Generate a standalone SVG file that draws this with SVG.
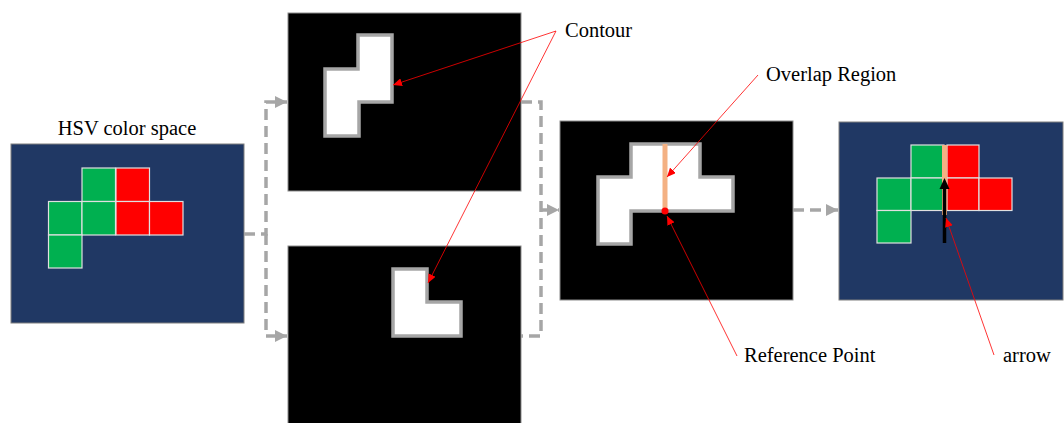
<svg xmlns="http://www.w3.org/2000/svg" width="1064" height="423" viewBox="0 0 1064 423">
<style>
text{font-family:'Liberation Serif','Times New Roman',Times,'DejaVu Serif',serif;font-size:20.5px;fill:#000}
.navy{fill:#203864;stroke:#7f7f7f;stroke-width:1}
.blk{fill:#000;stroke:#8c8c8c;stroke-width:1}
.g{fill:#00B050;stroke:#E0E0E0;stroke-width:1.2}
.r{fill:#FF0000;stroke:#E0E0E0;stroke-width:1.2}
.shape{fill:#fff;stroke:#A6A6A6;stroke-width:3.5;stroke-linejoin:miter}
.dash{fill:none;stroke:#A6A6A6;stroke-width:3.5;stroke-dasharray:11 6}
.ann{fill:none;stroke:#FF0000;stroke-width:0.8}
</style>
<defs>
<marker id="ga" markerUnits="userSpaceOnUse" markerWidth="12" markerHeight="12" refX="10" refY="5" orient="auto" viewBox="0 0 10 10">
<path d="M0,0 L10,5 L0,10 z" fill="#A6A6A6"/>
</marker>
<marker id="ra" markerUnits="userSpaceOnUse" markerWidth="9" markerHeight="8" refX="9" refY="4" orient="auto" viewBox="0 0 9 8">
<path d="M0,0 L9,4 L0,8 z" fill="#FF0000"/>
</marker>
</defs>

<g id="hsv-panel">
<rect class="navy" x="11" y="144" width="233" height="179"/>
<rect class="g" x="82" y="168" width="33.5" height="33.5"/>
<rect class="g" x="48.5" y="201.5" width="33.5" height="33.5"/>
<rect class="g" x="82" y="201.5" width="33.5" height="33.5"/>
<rect class="g" x="48.5" y="235" width="33.5" height="33"/>
<rect class="r" x="116" y="168" width="33.5" height="33.5"/>
<rect class="r" x="116" y="201.5" width="33.5" height="33.5"/>
<rect class="r" x="149.5" y="201.5" width="33.5" height="33.5"/>
<text x="127" y="135" text-anchor="middle" font-family="Liberation Serif, serif">HSV color space</text>
</g>

<g id="green-contour-panel">
<rect class="blk" x="288" y="13" width="233" height="178"/>
<path class="shape" d="M358,35 H392 V102 H359 V136 H325 V69 H358 Z"/>
</g>

<g id="red-contour-panel">
<rect class="blk" x="288" y="246" width="233" height="190"/>
<path class="shape" d="M393,269 H427 V302 H461 V336 H393 Z"/>
</g>

<g id="merged-panel">
<rect class="blk" x="560" y="121" width="233" height="179"/>
<path class="shape" d="M631,144 H700 V177 H733 V211 H631 V244 H598 V177 H631 Z"/>
<rect x="662.5" y="144" width="5" height="67" fill="#F4B183"/>
<circle cx="665" cy="211" r="3.5" fill="#FF0000"/>
</g>

<g id="result-panel">
<rect class="navy" x="839" y="122" width="224" height="178"/>
<rect class="g" x="911" y="145" width="33" height="33"/>
<rect class="g" x="877" y="178" width="34" height="32.5"/>
<rect class="g" x="911" y="178" width="33" height="32.5"/>
<rect class="g" x="877" y="210.5" width="34" height="32.5"/>
<rect class="r" x="947" y="145" width="32" height="33"/>
<rect class="r" x="947" y="178" width="32" height="32.5"/>
<rect class="r" x="979" y="178" width="33" height="32.5"/>
<rect x="942" y="145" width="5" height="70" fill="#F4B183"/>
<line x1="944.5" y1="243" x2="944.5" y2="186" stroke="#000" stroke-width="3.5"/>
<path d="M944.5,178 L939.5,189 L949.5,189 Z" fill="#000"/>
</g>

<g id="connectors">
<path class="dash" d="M244,234 H266 V102 H287" marker-end="url(#ga)"/>
<path class="dash" d="M266,234 V336 H287" marker-end="url(#ga)"/>
<path class="dash" d="M521,102 H541 V336 H521"/>
<path class="dash" d="M541,210 H559" marker-end="url(#ga)"/>
<path class="dash" d="M793,210 H838" marker-end="url(#ga)"/>
<path class="ann" d="M556,31 L393,85" marker-end="url(#ra)"/>
<path class="ann" d="M556,31 L428,283" marker-end="url(#ra)"/>
<path class="ann" d="M758,75 L667,177" marker-end="url(#ra)"/>
<path class="ann" d="M737,356 L667,216" marker-end="url(#ra)"/>
<path class="ann" d="M994,355 L946,218" marker-end="url(#ra)"/>
</g>

<g id="labels">
<text x="565" y="37">Contour</text>
<text x="766" y="81">Overlap Region</text>
<text x="744" y="362">Reference Point</text>
<text x="1003" y="362">arrow</text>
</g>
</svg>
